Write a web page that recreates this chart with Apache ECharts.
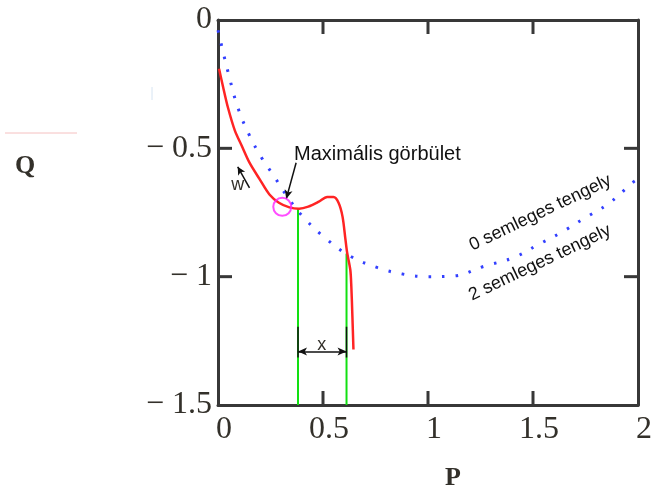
<!DOCTYPE html>
<html>
<head>
<meta charset="utf-8">
<script src="https://cdn.jsdelivr.net/npm/echarts@6/dist/echarts.min.js"></script>
<style>
  html, body { margin: 0; padding: 0; background: #fff; }
  #chart { width: 655px; height: 490px; }
</style>
</head>
<body>
<div id="chart"></div>
<script>
// semleges tengely (kék pontozott)
const axisP = [0, 0.02, 0.05, 0.094, 0.15, 0.21, 0.26, 0.34, 0.42, 0.52, 0.63, 0.76, 0.88, 1.0, 1.125, 1.265, 1.41, 1.525, 1.63, 1.74, 1.86, 1.98, 2.0]
const axisQ = [-0.04, -0.11, -0.21, -0.34, -0.45, -0.54, -0.60, -0.70, -0.78, -0.856, -0.92, -0.965, -0.99, -1.0, -0.997, -0.96, -0.925, -0.875, -0.83, -0.775, -0.715, -0.63, -0.62]
// görbe (piros)
const curveP = [0.005, 0.024, 0.047, 0.08, 0.113, 0.15, 0.198, 0.245, 0.29, 0.34, 0.386, 0.43, 0.48, 0.52, 0.55, 0.574, 0.593, 0.607, 0.615, 0.63, 0.635, 0.64, 0.645]
const curveQ = [-0.19, -0.26, -0.34, -0.43, -0.49, -0.556, -0.62, -0.68, -0.712, -0.73, -0.735, -0.727, -0.708, -0.69, -0.69, -0.712, -0.766, -0.856, -0.907, -0.973, -1.04, -1.155, -1.284]
// zöld határvonalak
const limitP = [0.381, 0.612]
const limitTopQ = [-0.735, -0.91]
const bottomQ = -1.5
// x méret
const dimQ = -1.292
const dimTickQ = [-1.195, -1.315]
// maximális görbület pontja
const maxCurv = [0.306, -0.728]
// tengelyosztás
const xTicks = [0, 0.5, 1, 1.5, 2]
const yTicks = [-1.5, -1, -0.5, 0]

const chart = echarts.init(document.getElementById('chart'))

const zip = (a, b) => a.map((v, i) => [v, b[i]])
const frame = '#383838'
const labelColor = '#33302a'
const xMin = xTicks[0], xMax = xTicks[xTicks.length - 1]
const yMin = yTicks[0], yMax = yTicks[yTicks.length - 1]
const xRange = { min: xMin, max: xMax, interval: xTicks[1] - xTicks[0] }
const yRange = { min: yMin, max: yMax, interval: yTicks[1] - yTicks[0] }
const tickLen = 14

const frameAxis = (extra) => Object.assign({
  type: 'value',
  axisLine: { show: true, onZero: false, lineStyle: { color: frame, width: 3 } },
  axisTick: { show: false },
  splitLine: { show: false },
  axisLabel: { show: false }
}, extra)

const greenSeries = limitP.map((p, i) => ({
  type: 'line',
  data: [[p, limitTopQ[i]], [p, bottomQ]],
  symbol: 'none',
  lineStyle: { color: '#12e012', width: 2 },
  z: 3
}))

const dimTicks = limitP.map(p => ({
  type: 'line',
  data: [[p, dimTickQ[0]], [p, dimTickQ[1]]],
  symbol: 'none',
  lineStyle: { color: '#111', width: 1.5 },
  z: 4
}))

const option = {
  animation: false,
  grid: { left: 218, right: 12, top: 20, bottom: 85 },
  xAxis: [
    frameAxis(Object.assign({
      position: 'bottom',
      axisLabel: {
        margin: 9, color: labelColor, fontFamily: 'Liberation Serif', fontSize: 32,
        padding: [0, 0, 0, 12]
      }
    }, xRange)),
    frameAxis(Object.assign({ position: 'top' }, xRange))
  ],
  yAxis: [
    frameAxis(Object.assign({
      position: 'left',
      axisLabel: {
        margin: 6, color: labelColor, fontFamily: 'Liberation Serif', fontSize: 32,
        padding: [8, 0, 0, 0],
        formatter: v => v === 0 ? '0' : '\u2212 ' + Math.abs(v)
      }
    }, yRange)),
    frameAxis(Object.assign({ position: 'right' }, yRange))
  ],
  series: [
    {
      type: 'line',
      data: zip(axisP, axisQ),
      smooth: 0.4,
      symbol: 'none',
      lineStyle: { color: '#3340ff', width: 3, type: [2.5, 11] },
      z: 2
    },
    ...greenSeries,
    {
      type: 'line',
      data: zip(curveP, curveQ),
      smooth: 0.3,
      symbol: 'none',
      lineStyle: { color: '#ff2424', width: 2.5 },
      z: 5
    },
    ...dimTicks,
    {
      type: 'line',
      data: [],
      symbol: 'none',
      markLine: {
        silent: true,
        symbol: ['arrow', 'arrow'],
        symbolSize: [6, 9],
        label: { show: false },
        lineStyle: { color: '#111', width: 1.5, type: 'solid' },
        data: [
          [{ coord: [limitP[0], dimQ] }, { coord: [limitP[1], dimQ] }],
          [{ coord: [0.372, -0.556], symbol: 'none' }, { coord: [0.325, -0.697], symbolSize: [6, 9] }],
          [{ coord: [0.15, -0.654], symbol: 'none' }, { coord: [0.094, -0.572], symbolSize: [6, 8] }]
        ]
      }
    },
    {
      type: 'scatter',
      data: [maxCurv],
      symbol: 'circle',
      symbolSize: 18,
      itemStyle: { color: 'rgba(0,0,0,0)', borderColor: '#ff22ff', borderWidth: 2 },
      z: 6
    }
  ]
}
chart.setOption(option)

// pixel-koordináta a tengelyekből
const px = (p, q) => chart.convertToPixel({ xAxisIndex: 0, yAxisIndex: 0 }, [p, q])

// keret osztásjelei: mind a négy oldalon befelé
const tickLines = []
const tickEl = (x1, y1, x2, y2) => ({
  type: 'line', z: 100, silent: true,
  shape: { x1, y1, x2, y2 },
  style: { stroke: frame, lineWidth: 3 }
})
xTicks.slice(1, -1).forEach(p => {
  const [xb, yb] = px(p, yMin)
  const [, yt] = px(p, yMax)
  tickLines.push(tickEl(xb, yb, xb, yb - tickLen))
  tickLines.push(tickEl(xb, yt, xb, yt + tickLen))
})
yTicks.slice(1, -1).forEach(q => {
  const [xl, y] = px(xMin, q)
  const [xr] = px(xMax, q)
  tickLines.push(tickEl(xl, y, xl + tickLen, y))
  tickLines.push(tickEl(xr, y, xr - tickLen, y))
})

const txt = (p, q, text, extra) => {
  const [x, y] = px(p, q)
  return Object.assign({
    type: 'text', x: x, y: y, z: 100,
    style: Object.assign({
      text: text, fill: '#111', fontFamily: 'Liberation Sans', fontSize: 18,
      align: 'center', verticalAlign: 'middle'
    }, extra && extra.style)
  }, extra && extra.el)
}
const rot = 25.5 * Math.PI / 180

chart.setOption({
  graphic: [
    ...tickLines,
    txt(0.362, -0.525, 'Maximális görbület', { style: { align: 'left', fontSize: 20 } }),
    txt(0.094, -0.642, 'w', { style: { fill: labelColor, fontSize: 18 } }),
    txt(0.494, -1.268, 'x', { style: { fill: labelColor, fontSize: 18 } }),
    txt(1.535, -0.751, '0 semleges tengely', { el: { rotation: rot } }),
    txt(1.533, -0.946, '2 semleges tengely', { el: { rotation: rot } }),
    {
      type: 'text', x: 25, y: 166,
      style: { text: 'Q', fill: labelColor, fontFamily: 'Liberation Serif', fontWeight: 'bold', fontSize: 26, align: 'center', verticalAlign: 'middle' }
    },
    {
      type: 'text', x: 453, y: 478,
      style: { text: 'P', fill: labelColor, fontFamily: 'Liberation Serif', fontWeight: 'bold', fontSize: 26, align: 'center', verticalAlign: 'middle' }
    },
    {
      type: 'line', shape: { x1: 5, y1: 133, x2: 77, y2: 133 },
      style: { stroke: '#f5c0c0', lineWidth: 1 }
    },
    {
      type: 'line', shape: { x1: 152, y1: 87, x2: 152, y2: 100 },
      style: { stroke: '#d6e4f2', lineWidth: 1 }
    }
  ]
})
</script>
</body>
</html>
